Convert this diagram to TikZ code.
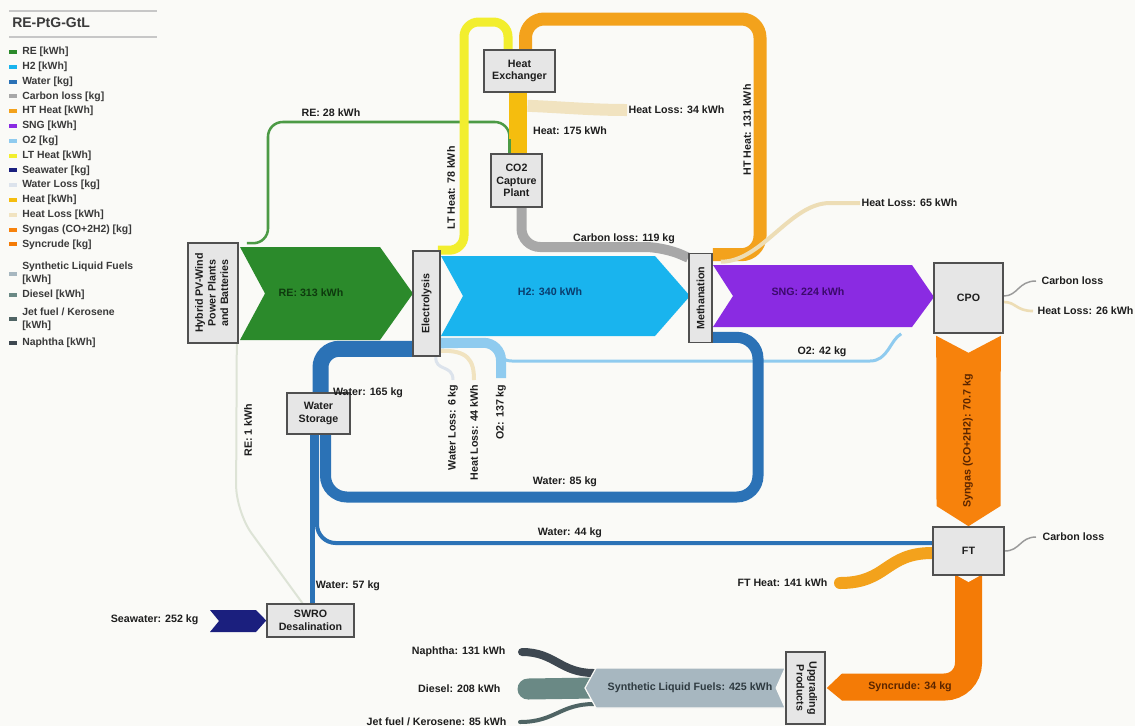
\documentclass[tikz,border=0pt]{standalone}
\usepackage{fontspec}
\setmainfont{Liberation Sans}
\usetikzlibrary{calc}
\pgfdeclarelayer{bg}
\pgfdeclarelayer{flows}
\pgfsetlayers{bg,flows,main}
\definecolor{bgc}{HTML}{FAFAF7}
\definecolor{txt}{HTML}{1E1E1E}
\definecolor{legc}{HTML}{3A3A3A}
\definecolor{boxfill}{HTML}{E6E6E6}
\definecolor{boxdraw}{HTML}{505050}
\definecolor{cRE}{HTML}{2B8A2B}
\definecolor{cREt}{HTML}{0E3A0E}
\definecolor{cRE28}{HTML}{4C9A45}
\definecolor{cRE1}{HTML}{DDE3D6}
\definecolor{cH2}{HTML}{19B4EE}
\definecolor{cH2t}{HTML}{0A3D6E}
\definecolor{cWater}{HTML}{2B72B6}
\definecolor{cCloss}{HTML}{A8A8A8}
\definecolor{cCloss2}{HTML}{9A9A9A}
\definecolor{cHT}{HTML}{F3A21C}
\definecolor{cSNG}{HTML}{8A2BE2}
\definecolor{cSNGt}{HTML}{3B0A6B}
\definecolor{cO2}{HTML}{8FCBEF}
\definecolor{cLT}{HTML}{F2EE2E}
\definecolor{cSea}{HTML}{1B1F7E}
\definecolor{cWloss}{HTML}{DCE3EC}
\definecolor{cHeat}{HTML}{F5BD0E}
\definecolor{cHloss}{HTML}{F1E3C0}
\definecolor{cHloss2}{HTML}{EDDDB5}
\definecolor{cSyngas}{HTML}{F7820C}
\definecolor{cSyncrude}{HTML}{F47B06}
\definecolor{cOrt}{HTML}{5A2500}
\definecolor{cSLF}{HTML}{A7B7C0}
\definecolor{cSLFt}{HTML}{2E3A40}
\definecolor{cDiesel}{HTML}{6A8985}
\definecolor{cJet}{HTML}{4F6464}
\definecolor{cNaph}{HTML}{3E4851}
\begin{document}
\begin{tikzpicture}[x=0.75pt,y=-0.75pt,
  box/.style={draw=boxdraw, fill=boxfill, line width=1.2pt, inner sep=0pt,
    font=\bfseries\fontsize{8}{9.5}\selectfont, text=txt, align=center},
  lbl/.style={font=\bfseries\fontsize{8}{9.5}\selectfont, text=txt, inner sep=1pt},
  legtxt/.style={font=\bfseries\fontsize{7.8}{9.5}\selectfont, text=legc, inner sep=0pt, align=left},
  legmark/.style={line width=3pt},
  rule/.style={draw=black!22, line width=0.8pt}]
\begin{pgfonlayer}{bg}
\fill[bgc] (0,0) rectangle (1135,726);
\end{pgfonlayer}
\useasboundingbox (0,0) rectangle (1135,726);

% ---------- legend ----------
\node[font=\bfseries\fontsize{10.5}{12}\selectfont, text=legc, anchor=west, inner sep=0pt] (title) at (12,23) {RE-PtG-GtL};
\draw[rule] (9,11) -- (157,11);
\draw[rule] (9,37) -- (157,37);
\foreach \y/\c/\t [count=\i] in {
 52/cRE/{RE [kWh]}, 66.8/cH2/{H2 [kWh]}, 81.6/cWater/{Water [kg]},
 96.4/cCloss/{Carbon loss [kg]}, 111.2/cHT/{HT Heat [kWh]}, 126/cSNG/{SNG [kWh]},
 140.8/cO2/{O2 [kg]}, 155.6/cLT/{LT Heat [kWh]}, 170.4/cSea/{Seawater [kg]},
 185.2/cWloss/{Water Loss [kg]}, 200/cHeat/{Heat [kWh]}, 214.8/cHloss/{Heat Loss [kWh]},
 229.6/cSyngas/{Syngas (CO+2H2) [kg]}, 244.4/cSyncrude/{Syncrude [kg]},
 273.5/cSLF/{Synthetic Liquid Fuels\\{[kWh]}}, 295/cDiesel/{Diesel [kWh]},
 319/cJet/{Jet fuel / Kerosene\\{[kWh]}}, 343/cNaph/{Naphtha [kWh]}}
{
  \draw[legmark, \c] (9,\y) -- (17,\y);
  \node[legtxt, anchor=west] (leg\i) at (22,\y) {\t};
}

% ---------- process boxes ----------
\node[box, minimum width=37.5pt, minimum height=75pt] (hyb) at (213,293)
  {\rotatebox{90}{\begin{tabular}{@{}c@{}}Hybrid PV-Wind\\Power Plants\\and Batteries\end{tabular}}};
\node[box, minimum width=20.25pt, minimum height=78.75pt] (elec) at (426.5,303.5) {\rotatebox{90}{Electrolysis}};
\node[box, minimum width=17.25pt, minimum height=66.75pt] (meth) at (700.5,298) {\rotatebox{90}{Methanation}};
\node[box, minimum width=51.75pt, minimum height=52.5pt] (cpo) at (968.5,298) {CPO};
\node[box, minimum width=53.25pt, minimum height=36pt] (ft) at (968.5,551) {FT};
\node[box, minimum width=53.25pt, minimum height=31.5pt] (hx) at (519.5,71) {Heat\\Exchanger};
\node[box, minimum width=38.25pt, minimum height=39.75pt] (co2) at (516.5,180.5) {CO2\\Capture\\Plant};
\node[box, minimum width=47.25pt, minimum height=30.75pt] (ws) at (318.5,413.5) {Water\\Storage};
\node[box, minimum width=65.25pt, minimum height=24.75pt] (swro) at (310.5,620.5) {SWRO\\Desalination};
\node[box, minimum width=29.25pt, minimum height=54pt] (upg) at (805.5,688)
  {\rotatebox{-90}{\begin{tabular}{@{}c@{}}Upgrading\\Products\end{tabular}}};

% free ends
\coordinate (hl34) at (627,110);
\coordinate (hl65) at (860,203);
\coordinate (o2end) at (501,378);
\coordinate (wl) at (453,380);
\coordinate (hl44) at (474,380);
\coordinate (re1k) at (236,512);
\coordinate (fth) at (840,583);
\coordinate (cpoC) at (1036,281);
\coordinate (cpoH) at (1033,311);
\coordinate (ftC) at (1036,537);
\coordinate (slfL) at (594,688);
\coordinate (naE) at (522,652);
\coordinate (diE) at (528,689);
\coordinate (jeE) at (520,722);

% ---------- flows ----------
\begin{pgfonlayer}{flows}
% RE 1 kWh
\draw[cRE1, line width=1.5pt, rounded corners=20pt] ([shift={(-2,0)}]hyb.south east) -- (re1k) -- ([shift={(-8,0)}]swro.north);
% RE 28 kWh
\draw[cRE28, line width=1.9pt, rounded corners=11pt] ([shift={(8,1)}]hyb.north east) -| (268,122) -| ([shift={(-7,0)}]co2.north);
% LT heat
\draw[cLT, line width=6.75pt, rounded corners=11pt] ([shift={(-3,0)}]elec.north east) -| (464,22) -| ([shift={(-11.5,0)}]hx.north);
% HT heat
\draw[cHT, line width=9.75pt, rounded corners=14pt] ([shift={(0,2)}]meth.north east) -| (760,19) -| ([shift={(6,0)}]hx.north);
% Heat 175
\draw[cHeat, line width=13.5pt] ([shift={(-1.5,0)}]hx.south) -- ([shift={(1.5,0)}]co2.north);
% RE 28 again on top of heat band end
\draw[cRE28, line width=1.9pt] ([shift={(-7,-14)}]co2.north) -- ([shift={(-7,0)}]co2.north);
% Heat loss 34
\draw[cHloss, line width=9pt] ([shift={(8,13)}]hx.south) .. controls (560,107) and (590,110) .. (hl34);
% Carbon loss 119
\draw[cCloss, line width=7.5pt, rounded corners=14pt] ([shift={(5,0)}]co2.south) |- (664,247) -- ([shift={(0,5)}]meth.north west);
% Heat loss 65
\draw[cHloss2, line width=3pt] ([shift={(8,9)}]meth.north east) .. controls (762,262) and (790,203) .. (830,203) -- (hl65);
% O2 42
\draw[cO2, line width=2.25pt] ([shift={(0,-10)}]elec.south east) -- (485,346) .. controls (497,346) and (497,361) .. (512,361) -- (870,361) .. controls (888,361) and (890,340) .. ([shift={(-32,0)}]cpo.south west);
% O2 137
\draw[cO2, line width=7.5pt, rounded corners=13pt] ([shift={(0,-14)}]elec.south east) -| (o2end);
% Water loss / Heat loss 44
\draw[cWloss, line width=2.25pt] ([shift={(-5,0)}]elec.south east) .. controls (435,372) and (453,364) .. (wl);
\draw[cHloss, line width=3pt] ([shift={(-1,-6)}]elec.south east) .. controls (468,350) and (474,360) .. (hl44);
% Water
\draw[cWater, line width=12pt, rounded corners=14pt] ([shift={(2,0)}]ws.north) |- ([shift={(0,-8)}]elec.south west);
\draw[cWater, line width=8.25pt, rounded corners=16pt] ([shift={(0,-6)}]meth.south east) -| (758,497) -| ([shift={(7,0)}]ws.south);
\draw[cWater, line width=3pt, rounded corners=14pt] ([shift={(0,-8)}]ft.west) -| ([shift={(-1.5,0)}]ws.south);
\draw[cWater, line width=3.75pt] ([shift={(1.5,0)}]swro.north) -- ([shift={(-6.5,0)}]ws.south);
% Seawater
\fill[cSea] (210,610) -- (256,610) -- (swro.west) -- (256,632) -- (210,632) -- (219,621) -- cycle;
% Syngas
\fill[cSyngas] ([shift={(3,2)}]cpo.south west) -- ([shift={(0,19)}]cpo.south) -- ([shift={(-3,2)}]cpo.south east) -- (1000.5,506) -- (ft.north) -- (936.5,506) -- cycle;
% Syncrude
\draw[cSyncrude, line width=20.25pt, rounded corners=18pt] (ft.south) |- (842,687);
\fill[cSyncrude] (842,673.5) -- ([shift={(1,0)}]upg.east) -- (842,700.5) -- cycle;
\fill[bgc] (956,575) -- (968.5,582) -- (981,575) -- cycle;
% FT heat
\draw[cHT, line width=9pt, line cap=round] (fth) .. controls (888,583) and (885,553) .. ([shift={(0,2)}]ft.west);
% CPO / FT losses
\draw[cCloss2, line width=1.1pt] ([shift={(0,-2)}]cpo.east) .. controls (1018,296) and (1018,281) .. (cpoC);
\draw[cHloss2, line width=2pt] ([shift={(0,4)}]cpo.east) .. controls (1016,302) and (1016,311) .. (cpoH);
\draw[cCloss2, line width=1.1pt] (ft.east) .. controls (1020,551) and (1020,537) .. (ftC);
% Fuels
\draw[cNaph, line width=6pt, line cap=round] ([shift={(0,-15)}]slfL) .. controls (560,673) and (555,652) .. (naE);
\draw[cDiesel, line width=15.75pt, line cap=round] (slfL) -- (diE);
\draw[cJet, line width=3pt, line cap=round] ([shift={(0,16)}]slfL) .. controls (560,704) and (555,722) .. (jeE);
\filldraw[fill=cSLF, draw=bgc, line width=0.9pt] ([shift={(0,-20)}]upg.west) -- (596,668) -- (585,688) -- (596,708) -- ([shift={(0,20)}]upg.west) -- ([shift={(-9,0)}]upg.west) -- cycle;
% Big chevrons
\fill[cRE] (240,247) -- (380,247) -- (413,293.5) -- (380,340) -- (240,340) -- (265,293.5) -- cycle;
\fill[cH2] (441,256) -- (655,256) -- (690,296) -- (655,336) -- (441,336) -- (463,296) -- cycle;
\fill[cSNG] (713,265) -- (912,265) -- (934,297) -- (912,327) -- (713,327) -- (733,296) -- cycle;
\end{pgfonlayer}

% ---------- labels ----------
\node[lbl, text=cREt] (l_re) at (311,293) {RE: 313 kWh};
\node[lbl, text=cH2t] (l_h2) at (550,292) {H2: 340 kWh};
\node[lbl, text=cSNGt] (l_sng) at (808,292) {SNG: 224 kWh};
\node[lbl] (l_re28) at (331,113) {RE: 28 kWh};
\node[lbl, rotate=90] (l_lt) at (451,188) {LT Heat: 78 kWh};
\node[lbl] (l_heat) at (570,131) {Heat: 175 kWh};
\node[lbl, anchor=west] (l_hl34) at (hl34) {Heat Loss: 34 kWh};
\node[lbl, rotate=90] (l_ht) at (747,130) {HT Heat: 131 kWh};
\node[lbl] (l_cl) at (624,239) {Carbon loss: 119 kg};
\node[lbl, anchor=west] (l_hl65) at (hl65) {Heat Loss: 65 kWh};
\node[lbl, anchor=west] (l_cpoC) at ([shift={(4,0)}]cpoC) {Carbon loss};
\node[lbl, anchor=west] (l_cpoH) at ([shift={(3,0)}]cpoH) {Heat Loss: 26 kWh};
\node[lbl] (l_o242) at (822,352) {O2: 42 kg};
\node[lbl, rotate=90, anchor=east] (l_wl) at ([shift={(0,3)}]wl) {Water Loss: 6 kg};
\node[lbl, rotate=90, anchor=east] (l_hl44) at ([shift={(0,3)}]hl44) {Heat Loss: 44 kWh};
\node[lbl, rotate=90, anchor=east] (l_o2) at ([shift={(0,5)}]o2end) {O2: 137 kg};
\node[lbl] (l_w165) at (368,393) {Water: 165 kg};
\node[lbl] (l_w85) at (565,482) {Water: 85 kg};
\node[lbl] (l_w44) at (570,533) {Water: 44 kg};
\node[lbl] (l_w57) at (348,586) {Water: 57 kg};
\node[lbl, rotate=90] (l_re1) at (248,430) {RE: 1 kWh};
\node[lbl, anchor=east] (l_sea) at (200,620) {Seawater: 252 kg};
\node[lbl, rotate=90, text=cOrt] (l_syn) at (968,441) {Syngas (CO+2H2): 70.7 kg};
\node[lbl, anchor=west] (l_ftC) at ([shift={(5,0)}]ftC) {Carbon loss};
\node[lbl, anchor=east] (l_fth) at ([shift={(-11,0)}]fth) {FT Heat: 141 kWh};
\node[lbl, text=cOrt] (l_sync) at (910,687) {Syncrude: 34 kg};
\node[lbl, text=cSLFt] (l_slf) at (690,688) {Synthetic Liquid Fuels: 425 kWh};
\node[lbl, anchor=east] (l_na) at ([shift={(-15,0)}]naE) {Naphtha: 131 kWh};
\node[lbl, anchor=east] (l_di) at ([shift={(-26,0)}]diE) {Diesel: 208 kWh};
\node[lbl, anchor=east] (l_je) at ([shift={(-12,0)}]jeE) {Jet fuel / Kerosene: 85 kWh};
\end{tikzpicture}
\end{document}
